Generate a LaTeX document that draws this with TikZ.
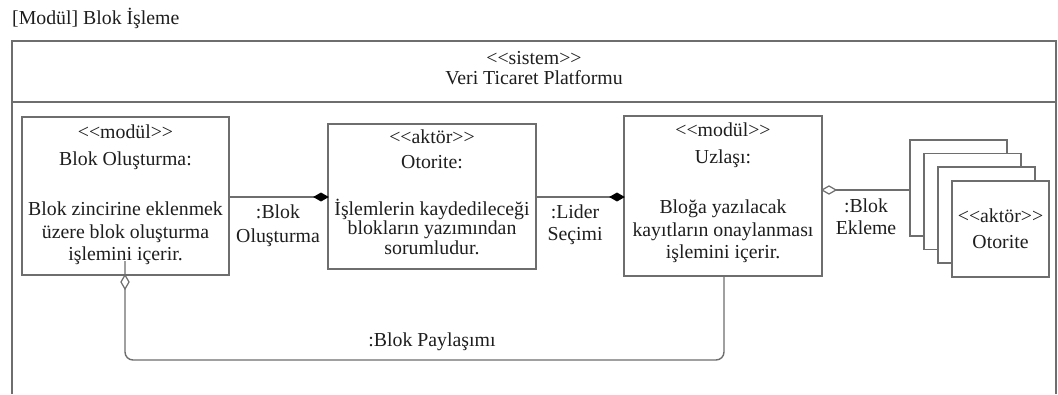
\documentclass[tikz,border=0pt]{standalone}
\usepackage{fontspec}
\setmainfont{Liberation Serif}
\usetikzlibrary{arrows.meta}
\definecolor{linec}{HTML}{6E6E6E}
\definecolor{txtc}{HTML}{1E1E1E}
\newcommand\lgl{<\kern0pt<}
\newcommand\rgl{>\kern0pt>}
\begin{document}
\begin{tikzpicture}[x=1pt,y=-1pt,
  font=\fontsize{19.8}{22}\selectfont,
  every node/.style={text=txtc},
  box/.style={draw=linec,line width=1.4pt,fill=white,inner sep=0pt,outer sep=0pt},
  txt/.style={anchor=base,inner sep=0pt},
  conn/.style={draw=linec,line width=1.4pt},
  fdiam/.style={fill=black,draw=black,line width=0.8pt,line join=miter},
  odiam/.style={fill=white,draw=linec,line width=1.2pt,line join=miter}
]
\useasboundingbox (0,0) rectangle (1058,394);
\fill[white] (0,0) rectangle (1058,394);
% title
\node[txt,anchor=base west] (title) at (12,24) {[Modül] Blok İşleme};
% frame
\draw[conn] (12,394) -- (12,41) -- (1056,41) -- (1056,394);
\draw[conn] (12,102) -- (1056,102);
\node[txt] (st1) at (534,64) {\lgl sistem\rgl};
\node[txt] (st2) at (534,84) {Veri Ticaret Platformu};
% box 1
\node[box,minimum width=207pt,minimum height=158pt] (b1) at (125.5,196) {};
\node[txt] (b1a) at (125.5,138) {\lgl modül\rgl};
\node[txt] (b1b) at (125.5,165) {Blok Oluşturma:};
\node[txt] (b1c) at (125.5,215) {Blok zincirine eklenmek};
\node[txt] (b1d) at (125.5,238) {üzere blok oluşturma};
\node[txt] (b1e) at (125.5,260) {işlemini içerir.};
% box 2
\node[box,minimum width=208pt,minimum height=145pt] (b2) at (432,196.5) {};
\node[txt] (b2a) at (432,143) {\lgl aktör\rgl};
\node[txt] (b2b) at (432,168) {Otorite:};
\node[txt] (b2c) at (432,215) {İşlemlerin kaydedileceği};
\node[txt] (b2d) at (432,234.5) {blokların yazımından};
\node[txt] (b2e) at (432,254) {sorumludur.};
% box 3
\node[box,minimum width=198pt,minimum height=160pt] (b3) at (723,196) {};
\node[txt] (b3a) at (723,136) {\lgl modül\rgl};
\node[txt] (b3b) at (723,163) {Uzlaşı:};
\node[txt] (b3c) at (723,213) {Bloğa yazılacak};
\node[txt] (b3d) at (723,236) {kayıtların onaylanması};
\node[txt] (b3e) at (723,258) {işlemini içerir.};
% stack
\node[box,minimum width=97pt,minimum height=96pt] (sa) at (958.5,188) {};
\node[box,minimum width=97pt,minimum height=96pt] (sb) at (972.5,201.5) {};
\node[box,minimum width=97pt,minimum height=96pt] (sc) at (986.5,215) {};
\node[box,minimum width=97pt,minimum height=96pt] (sd) at (1000.5,229) {};
\node[txt] (sda) at (1000.5,222) {\lgl aktör\rgl};
\node[txt] (sdb) at (1000.5,248) {Otorite};
% connectors
\coordinate (c1a) at (b1.east |- 0,197);
\coordinate (c1b) at (b2.west |- 0,197);
\draw[conn] (c1a) -- (c1b);
\path[fdiam] (c1b) -- ++(-7,-4) -- ++(-7,4) -- ++(7,4) -- cycle;
\node[txt] (l1a) at (278,218) {:Blok};
\node[txt] (l1b) at (278,242) {Oluşturma};
\coordinate (c2a) at (b2.east |- 0,197);
\coordinate (c2b) at (b3.west |- 0,197);
\draw[conn] (c2a) -- (c2b);
\path[fdiam] (c2b) -- ++(-7,-4) -- ++(-7,4) -- ++(7,4) -- cycle;
\node[txt] (l2a) at (575,218) {:Lider};
\node[txt] (l2b) at (575,240) {Seçimi};
\coordinate (c3a) at (sa.west |- 0,190);
\coordinate (c3b) at (b3.east |- 0,190);
\draw[conn] (c3a) -- (c3b);
\path[odiam] (c3b) -- ++(7,-4) -- ++(7,4) -- ++(-7,4) -- cycle;
\node[txt] (l3a) at (866,212) {:Blok};
\node[txt] (l3b) at (866,234) {Ekleme};
\coordinate (c4a) at (b3.south -| 724,0);
\coordinate (c4b) at (b1.south -| 125,0);
\draw[conn,rounded corners=8pt] (c4a) -- (724,360) -- (125,360) -- ([yshift=14pt]c4b);
\path[odiam] (c4b) -- ++(-4,7) -- ++(4,7) -- ++(4,-7) -- cycle;
\node[txt] (l4) at (432,346) {:Blok Paylaşımı};
\end{tikzpicture}
\end{document}
